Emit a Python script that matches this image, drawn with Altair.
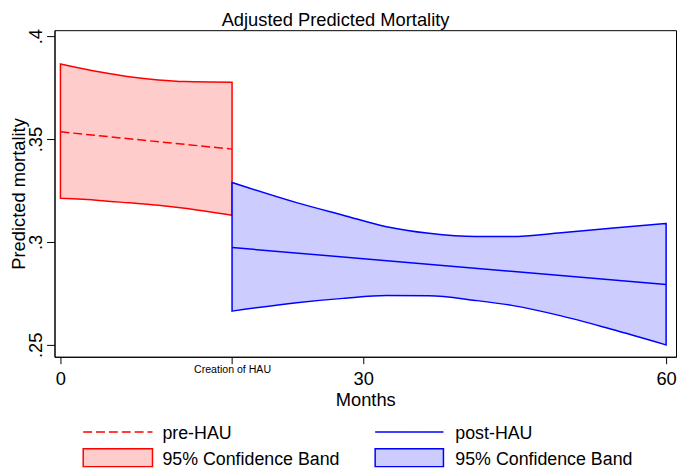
import altair as alt
import pandas as pd

FONT = "Liberation Sans"

# ---- text ----
title_text = "Adjusted Predicted Mortality"
x_title = "Months"
y_title = "Predicted mortality"

x_tick_values = [0, 17, 30, 60]
x_tick_labels = ["0", "Creation of HAU", "30", "60"]
y_tick_values = [0.25, 0.30, 0.35, 0.40]
y_tick_labels = [".25", ".3", ".35", ".4"]

# ---- data ----
pre_months = [0, 3.8, 6.8, 9.7, 12.3, 17]
pre_upper = [0.3865, 0.3827, 0.3803, 0.3787, 0.3779, 0.3776]
pre_lower = [0.3212, 0.3202, 0.3190, 0.3178, 0.3164, 0.3130]
pre_mean_months = [0, 17]
pre_mean = [0.3535, 0.3451]

post_months = [17, 23.4, 28, 32.3, 36.5, 41.1, 44.7, 49.6, 54.5, 60]
post_upper = [0.3289, 0.3191, 0.3130, 0.3074, 0.3042, 0.3026, 0.3026, 0.3045, 0.3067, 0.3090]
post_lower = [0.2664, 0.2705, 0.2726, 0.2740, 0.2739, 0.2716, 0.2692, 0.2641, 0.2577, 0.2500]
post_mean_months = [17, 60]
post_mean = [0.2973, 0.2793]

legend_labels = ["pre-HAU", "95% Confidence Band", "post-HAU", "95% Confidence Band"]

# ---- styles ----
RED = "#FF0000"
RED_FILL = "#FFCCCC"
BLUE = "#0000FF"
BLUE_FILL = "#CCCCFF"

W, H = 628, 330


def label_expr(vals, labs):
    parts = [f"abs(datum.value - {v}) < 1e-6 ? '{l}'" for v, l in zip(vals, labs)]
    return " : ".join(parts) + " : datum.label"


x_scale = alt.Scale(domain=[-0.588, 60.98], nice=False, zero=False)
y_scale = alt.Scale(domain=[0.24423, 0.40288], nice=False, zero=False)

x_axis = alt.Axis(
    values=x_tick_values,
    labelExpr=label_expr(x_tick_values, x_tick_labels),
    title=x_title,
    grid=False,
    tickSize=7,
    labelPadding=6,
    labelFontSize=alt.condition("abs(datum.value - 17) < 1e-6", alt.value(10.7), alt.value(18.5)),
    labelBaseline=alt.condition("abs(datum.value - 17) < 1e-6", alt.value("middle"), alt.value("top")),
    labelFlush=False,
    labelOverlap=False,
    titleFontSize=18.5,
    titleFontWeight="normal",
    titleBaseline="alphabetic",
    titleY=49,
)

y_axis = alt.Axis(
    values=y_tick_values,
    labelExpr=label_expr(y_tick_values, y_tick_labels),
    title=y_title,
    grid=False,
    tickSize=8,
    labelPadding=5,
    labelAngle=270,
    labelAlign="center",
    labelBaseline="alphabetic",
    labelFontSize=18.5,
    labelFlush=False,
    labelOverlap=False,
    titleFontSize=18.5,
    titleFontWeight="normal",
    titleAngle=270,
    titleAlign="center",
    titleBaseline="alphabetic",
    titleX=-30,
    titleY=H / 2,
)


def X(field):
    return alt.X(f"{field}:Q", scale=x_scale, axis=x_axis)


def Y(field):
    return alt.Y(f"{field}:Q", scale=y_scale, axis=y_axis)


pre_df = pd.DataFrame({"month": pre_months, "upper": pre_upper, "lower": pre_lower})
post_df = pd.DataFrame({"month": post_months, "upper": post_upper, "lower": post_lower})
pre_mean_df = pd.DataFrame({"month": pre_mean_months, "mean": pre_mean})
post_mean_df = pd.DataFrame({"month": post_mean_months, "mean": post_mean})

pre_band = alt.Chart(pre_df).mark_area(
    interpolate="monotone", fill=RED_FILL, stroke=RED, strokeWidth=1.5, opacity=1
).encode(x=X("month"), y=Y("upper"), y2="lower")

pre_line = alt.Chart(pre_mean_df).mark_line(
    color=RED, strokeWidth=1.5, strokeDash=[9, 4]
).encode(x=X("month"), y=Y("mean"))

post_band = alt.Chart(post_df).mark_area(
    interpolate="monotone", fill=BLUE_FILL, stroke=BLUE, strokeWidth=1.5, opacity=1
).encode(x=X("month"), y=Y("upper"), y2="lower")

post_line = alt.Chart(post_mean_df).mark_line(
    color=BLUE, strokeWidth=1.5
).encode(x=X("month"), y=Y("mean"))

# ---- legend (drawn below the plot, Stata style) ----
leg_line_y = 406
leg_rect_y0, leg_rect_y1 = 423, 441
leg_text_y = [413, 439]
leg_cols = [(29, 99, 109), (324, 393, 405)]
leg_colors = [(RED, RED_FILL, [9, 4]), (BLUE, BLUE_FILL, [1, 0])]

legend_layers = []
for ci, ((sx0, sx1, tx), (sc, fc, dash)) in enumerate(zip(leg_cols, leg_colors)):
    dummy = pd.DataFrame({"label": [legend_labels[ci * 2]]})
    legend_layers.append(
        alt.Chart(dummy).mark_rule(color=sc, strokeWidth=1.5, strokeDash=dash).encode(
            x=alt.value(sx0), x2=alt.value(sx1), y=alt.value(leg_line_y)
        )
    )
    legend_layers.append(
        alt.Chart(dummy).mark_rect(fill=fc, stroke=sc, strokeWidth=1.5).encode(
            x=alt.value(sx0), x2=alt.value(sx1), y=alt.value(leg_rect_y0), y2=alt.value(leg_rect_y1)
        )
    )
    for ri in range(2):
        tdf = pd.DataFrame({"label": [legend_labels[ci * 2 + ri]]})
        legend_layers.append(
            alt.Chart(tdf).mark_text(
                font=FONT, fontSize=18, align="left", baseline="alphabetic", color="black"
            ).encode(x=alt.value(tx), y=alt.value(leg_text_y[ri]), text="label:N")
        )

chart = (
    alt.layer(pre_band, pre_line, post_band, post_line, *legend_layers)
    .properties(
        width=W,
        height=H,
        padding={"left": 2, "top": 0, "right": 0, "bottom": 0},
        background="white",
        title=alt.TitleParams(
            title_text, fontSize=18.5, fontWeight="normal", font=FONT,
            color="black", offset=-1, anchor="middle", frame="group", dx=-30,
        ),
    )
    .configure_view(stroke="#000000", strokeWidth=1)
    .configure_axis(
        domainColor="#000000", tickColor="#000000", labelColor="#000000",
        titleColor="#000000", labelFont=FONT, titleFont=FONT,
        domainWidth=1, tickWidth=1,
    )
)

chart.save("out.html", embed_options={"renderer": "svg", "actions": False})
